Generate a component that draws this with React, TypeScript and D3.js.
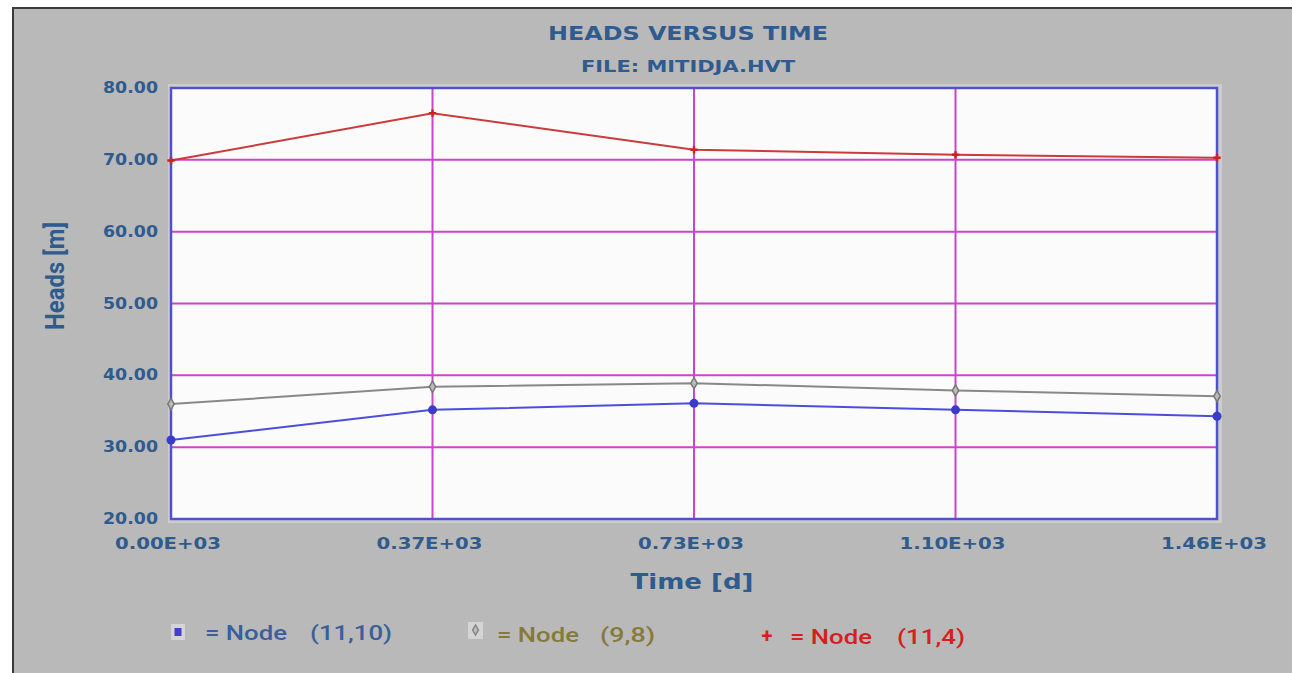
import * as d3 from "d3";

// series (time in days, heads in m)
const times = [0, 365, 730, 1095, 1460];
const node11_10 = [31.0, 35.2, 36.1, 35.2, 34.3];
const node9_8 = [36.0, 38.4, 38.9, 37.9, 37.1];
const node11_4 = [69.9, 76.5, 71.4, 70.7, 70.3];
const yTicks = [20, 30, 40, 50, 60, 70, 80];
const xTickLabels = ["0.00E+03", "0.37E+03", "0.73E+03", "1.10E+03", "1.46E+03"];
const legendNodes = ["(11,10)", "(9,8)", "(11,4)"];

const W = 1292;
const H = 673;
const left = 171, right = 1217, top = 88, bottom = 519;

const txt = "#2f5b8e";
const narrow = "Liberation Sans Narrow, Roboto";
const wide = "DejaVu Sans";

// legend layout: [marker x, "= Node" x, node x, node width, colour]
const legendPos: [number, number, number, number, string][] = [
  [178, 205, 310, 82, "#3a5f9a"],
  [476, 497, 600, 55, "#857a3a"],
  [767, 790, 897, 68, "#d42020"],
];

export default function App() {
  const x = d3.scaleLinear().domain([0, 1460]).range([left, right]);
  const y = d3.scaleLinear().domain([20, 80]).range([bottom, top]);
  const line = d3.line<number>().x((_, i) => x(times[i])).y((d) => y(d));

  return (
    <svg width={W} height={H} style={{ position: "absolute", left: 0, top: 0 }}>
      <rect x={0} y={0} width={W} height={H} fill="#ffffff" />
      {/* outer panel */}
      <rect x={13} y={8} width={W + 40} height={H + 40} fill="#b9b9b9" stroke="#3a3a3a" strokeWidth={2} />

      <text x={688} y={40} textAnchor="middle" fill={txt} fontFamily={wide} fontWeight="bold" fontSize={20} textLength={280} lengthAdjust="spacingAndGlyphs">
        HEADS VERSUS TIME
      </text>
      <text x={688} y={72} textAnchor="middle" fill={txt} fontFamily={wide} fontWeight="bold" fontSize={15} textLength={214} lengthAdjust="spacingAndGlyphs">
        FILE: MITIDJA.HVT
      </text>

      {/* plot frame */}
      <rect x={left - 3} y={top - 4} width={right - left + 8} height={bottom - top + 8} fill="#cccccc" />
      <rect x={left} y={top} width={right - left} height={bottom - top} fill="#fbfbfb" />

      {yTicks.slice(1, -1).map((t) => (
        <line key={"gy" + t} x1={left} x2={right} y1={y(t)} y2={y(t)} stroke="#cc44cc" strokeWidth={2} />
      ))}
      {times.slice(1, -1).map((t) => (
        <line key={"gx" + t} x1={x(t)} x2={x(t)} y1={top} y2={bottom} stroke="#cc44cc" strokeWidth={2} />
      ))}
      <rect x={left} y={top} width={right - left} height={bottom - top} fill="none" stroke="#5050d0" strokeWidth={2.5} />

      {/* series */}
      <path d={line(node9_8) ?? ""} fill="none" stroke="#888888" strokeWidth={2} />
      <path d={line(node11_10) ?? ""} fill="none" stroke="#4d4ddd" strokeWidth={2} />
      <path d={line(node11_4) ?? ""} fill="none" stroke="#cc3a3a" strokeWidth={2} />

      {node11_10.map((v, i) => (
        <circle key={"b" + i} cx={x(times[i])} cy={y(v)} r={4.5} fill="#3a3acc" />
      ))}
      {node9_8.map((v, i) => (
        <path key={"g" + i} d={d3.symbol(d3.symbolDiamond, 36)() ?? ""} transform={`translate(${x(times[i])},${y(v)})`} fill="#bbbbbb" stroke="#777777" strokeWidth={1.5} />
      ))}
      {node11_4.map((v, i) => (
        <path key={"r" + i} d={d3.symbol(d3.symbolCross, 30)() ?? ""} transform={`translate(${x(times[i])},${y(v)})`} fill="#cc2222" />
      ))}

      {/* y axis labels */}
      {yTicks.map((t) => (
        <text key={"yt" + t} x={158} y={y(t) + 5} textAnchor="end" fill={txt} fontFamily={wide} fontWeight="bold" fontSize={15} textLength={55} lengthAdjust="spacingAndGlyphs">
          {t.toFixed(2)}
        </text>
      ))}
      {/* x axis labels */}
      {times.map((t, i) => (
        <text key={"xt" + t} x={x(t) - 3} y={549} textAnchor="middle" fill={txt} fontFamily={wide} fontWeight="bold" fontSize={16} textLength={106} lengthAdjust="spacingAndGlyphs">
          {xTickLabels[i]}
        </text>
      ))}

      <text x={692} y={589} textAnchor="middle" fill={txt} fontFamily={wide} fontWeight="bold" fontSize={22} textLength={123} lengthAdjust="spacingAndGlyphs">
        Time [d]
      </text>
      <text transform="translate(64,276) rotate(-90)" textAnchor="middle" fill={txt} fontFamily={narrow} fontWeight="bold" fontSize={25} textLength={108} lengthAdjust="spacingAndGlyphs">
        Heads [m]
      </text>

      {/* legend */}
      <rect x={171} y={624} width={14} height={16} fill="#d4d4d4" />
      <rect x={174.5} y={628} width={7} height={8} fill="#4040cc" />
      <rect x={468} y={622} width={15} height={17} fill="#d4d4d4" />
      <path d={d3.symbol(d3.symbolDiamond, 30)() ?? ""} transform="translate(475.5,630)" fill="#bbbbbb" stroke="#888888" strokeWidth={1.5} />
      <text x={767} y={643} textAnchor="middle" fill="#d42020" fontFamily={narrow} fontWeight="bold" fontSize={20}>
        +
      </text>
      {legendNodes.map((n, i) => {
        const [, xa, xb, wb, col] = legendPos[i];
        const yy = 640 + i * 2;
        return (
          <g key={"lg" + n} fill={col} fontFamily={narrow} fontWeight="500" fontSize={20}>
            <text x={xa} y={yy} textLength={82} lengthAdjust="spacingAndGlyphs">= Node</text>
            <text x={xb} y={yy} textLength={wb} lengthAdjust="spacingAndGlyphs">{n}</text>
          </g>
        );
      })}
    </svg>
  );
}
